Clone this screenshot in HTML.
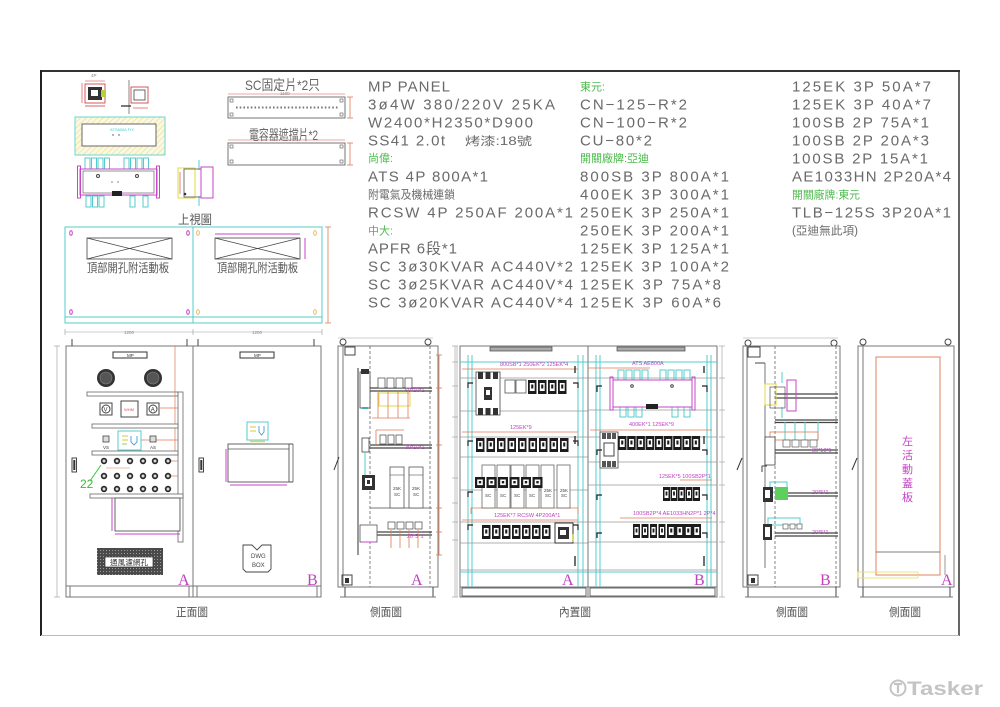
<!DOCTYPE html>
<html><head><meta charset="utf-8">
<style>
html,body{margin:0;padding:0;background:#fff;width:1000px;height:707px;overflow:hidden}
svg{display:block}
text{font-family:"Liberation Sans","Noto Sans CJK TC",sans-serif}
.t{font-size:15px;fill:#6a6a6a}
.g{font-size:11px;fill:#4cbb4c}
.s{font-size:11.5px;fill:#6a6a6a}
.m{fill:#c040c0}
.ln{stroke:#777;stroke-width:1;fill:none}
.dk{stroke:#444;stroke-width:1;fill:none}
.cy{stroke:#55cccc;stroke-width:1;fill:none}
.mg{stroke:#c844c8;stroke-width:1;fill:none}
.or{stroke:#e07a50;stroke-width:.8;fill:none}
.ye{stroke:#e0d840;stroke-width:1;fill:none}
.dm{stroke:#999;stroke-width:.6;fill:none}
.tiny{font-size:4.5px;fill:#888}
.mt{font-size:5.5px;fill:#c040c0}
.lab{font-size:11.5px;fill:#555}
.big{font-family:"Liberation Serif",serif;font-size:16px;fill:#c040c0}
</style></head><body>
<svg width="1000" height="707" viewBox="0 0 1000 707" xmlns="http://www.w3.org/2000/svg">
<defs>
<pattern id="hy" width="4" height="4" patternUnits="userSpaceOnUse" patternTransform="rotate(45)"><rect width="4" height="4" fill="#fbf8e2"/><line x1="0" y1="0" x2="0" y2="4" stroke="#e6d878" stroke-width="1"/></pattern>
<pattern id="gr" width="3" height="3" patternUnits="userSpaceOnUse"><rect width="3" height="3" fill="#4a4a4a"/><rect x="1" y="1" width="1" height="1" fill="#9a9a9a"/></pattern>
<g id="bk"><rect width="8.5" height="14" fill="#1c1c1c"/><rect x="1.8" y="3" width="4.9" height="8" fill="#fff"/><rect x="3.2" y="4.5" width="2.1" height="4" fill="#1c1c1c"/></g>
<g id="bs"><rect width="7" height="14" fill="#1c1c1c"/><rect x="1.5" y="3" width="4" height="8" fill="#fff"/><rect x="2.6" y="4.5" width="1.8" height="4" fill="#1c1c1c"/></g>
<g id="ct"><rect width="10" height="11" fill="#1c1c1c"/><rect x="2.2" y="2.5" width="5.6" height="5.6" fill="#fff"/><rect x="3.8" y="4" width="2.4" height="2.4" fill="#1c1c1c"/></g>
<g id="lp"><circle r="3.2" fill="#2a2a2a"/><circle r="1.5" fill="#ddd"/></g>
</defs>

<!-- frame -->
<line x1="40" y1="71" x2="960" y2="71" stroke="#333" stroke-width="2"/>
<line x1="41" y1="70" x2="41" y2="636" stroke="#222" stroke-width="2"/>
<line x1="959" y1="70" x2="959" y2="636" stroke="#333" stroke-width="1.5"/>
<line x1="41" y1="635.5" x2="959" y2="635.5" stroke="#bbb" stroke-width="1"/>

<!-- text column 1 -->
<text class="t" x="368" y="91.5" textLength="82" lengthAdjust="spacing">MP  PANEL</text>
<text class="t" x="368" y="109.5" textLength="187" lengthAdjust="spacing">3ø4W  380/220V  25KA</text>
<text class="t" x="368" y="127.5" textLength="165" lengthAdjust="spacing">W2400*H2350*D900</text>
<text class="t" x="368" y="145.5" textLength="77" lengthAdjust="spacing">SS41  2.0t</text>
<text class="s" x="465" y="145" textLength="67" lengthAdjust="spacingAndGlyphs">烤漆:18號</text>
<text class="g" x="368" y="162">尚偉:</text>
<text class="t" x="368" y="181.5" textLength="120" lengthAdjust="spacing">ATS  4P  800A*1</text>
<text class="s" x="368" y="198.5" textLength="87" lengthAdjust="spacingAndGlyphs">附電氣及機械連鎖</text>
<text class="t" x="368" y="217.5" textLength="205" lengthAdjust="spacing">RCSW  4P  250AF  200A*1</text>
<text class="g" x="368" y="234.5">中大:</text>
<text class="t" x="368" y="253.5" textLength="89" lengthAdjust="spacing">APFR  6段*1</text>
<text class="t" x="368" y="271.5" textLength="205" lengthAdjust="spacing">SC  3ø30KVAR  AC440V*2</text>
<text class="t" x="368" y="289.5" textLength="205" lengthAdjust="spacing">SC  3ø25KVAR  AC440V*4</text>
<text class="t" x="368" y="307.5" textLength="205" lengthAdjust="spacing">SC  3ø20KVAR  AC440V*4</text>

<!-- text column 2 -->
<text class="g" x="580" y="90.5">東元:</text>
<text class="t" x="580" y="109.5" textLength="107" lengthAdjust="spacing">CN−125−R*2</text>
<text class="t" x="580" y="127.5" textLength="107" lengthAdjust="spacing">CN−100−R*2</text>
<text class="t" x="580" y="145.5" textLength="72" lengthAdjust="spacing">CU−80*2</text>
<text class="g" x="580" y="162" textLength="69" lengthAdjust="spacingAndGlyphs">開關廠牌:亞迪</text>
<text class="t" x="580" y="181.5" textLength="149" lengthAdjust="spacing">800SB  3P  800A*1</text>
<text class="t" x="580" y="199.5" textLength="149" lengthAdjust="spacing">400EK  3P  300A*1</text>
<text class="t" x="580" y="217.5" textLength="149" lengthAdjust="spacing">250EK  3P  250A*1</text>
<text class="t" x="580" y="235.5" textLength="149" lengthAdjust="spacing">250EK  3P  200A*1</text>
<text class="t" x="580" y="253.5" textLength="149" lengthAdjust="spacing">125EK  3P  125A*1</text>
<text class="t" x="580" y="271.5" textLength="149" lengthAdjust="spacing">125EK  3P  100A*2</text>
<text class="t" x="580" y="289.5" textLength="141" lengthAdjust="spacing">125EK  3P  75A*8</text>
<text class="t" x="580" y="307.5" textLength="141" lengthAdjust="spacing">125EK  3P  60A*6</text>

<!-- text column 3 -->
<text class="t" x="792" y="91.5" textLength="139" lengthAdjust="spacing">125EK  3P  50A*7</text>
<text class="t" x="792" y="109.5" textLength="139" lengthAdjust="spacing">125EK  3P  40A*7</text>
<text class="t" x="792" y="127.5" textLength="137" lengthAdjust="spacing">100SB  2P  75A*1</text>
<text class="t" x="792" y="145.5" textLength="137" lengthAdjust="spacing">100SB  2P  20A*3</text>
<text class="t" x="792" y="163.5" textLength="136" lengthAdjust="spacing">100SB  2P  15A*1</text>
<text class="t" x="792" y="181.5" textLength="159" lengthAdjust="spacing">AE1033HN  2P20A*4</text>
<text class="g" x="792" y="198.5" textLength="68" lengthAdjust="spacingAndGlyphs">開關廠牌:東元</text>
<text class="t" x="792" y="217.5" textLength="159" lengthAdjust="spacing">TLB−125S  3P20A*1</text>
<text class="s" x="792" y="234.5" textLength="66" lengthAdjust="spacingAndGlyphs">(亞迪無此項)</text>

<!-- ===== top-left small drawings ===== -->
<text class="tiny" x="91" y="77">4P</text>
<line x1="82" y1="83" x2="82" y2="103" stroke="#c33" stroke-width=".6"/>
<line x1="85" y1="81" x2="105" y2="81" stroke="#c33" stroke-width=".6"/>
<rect x="85" y="84" width="20" height="19" fill="none" stroke="#c33" stroke-width=".8"/>
<rect x="88" y="87" width="14" height="13" fill="#333"/>
<rect x="91" y="90" width="7" height="6" fill="#fff"/>
<rect x="101" y="90" width="5" height="7" fill="#b8d040"/>
<line x1="85" y1="106" x2="105" y2="106" stroke="#c33" stroke-width=".8"/>
<line x1="129" y1="80" x2="129" y2="114" stroke="#555" stroke-width=".7"/>
<rect x="131" y="87" width="17" height="16" fill="none" stroke="#c33" stroke-width=".8"/>
<rect x="134" y="90" width="11" height="10" fill="none" stroke="#444" stroke-width=".8"/>
<line x1="121" y1="106" x2="131" y2="106" stroke="#222" stroke-width="1.2"/>
<line x1="133" y1="108" x2="148" y2="108" stroke="#c33" stroke-width=".6"/>

<rect x="75" y="117" width="90" height="38" fill="url(#hy)" stroke="#6cd4d4" stroke-width="1"/>
<rect x="82" y="124" width="74" height="22" fill="#fff" stroke="#444" stroke-width=".8"/>
<text x="110" y="131" style="font-size:4px;fill:#4cc">ATS800A FIX</text>
<circle cx="113" cy="135" r=".7" fill="#444"/><circle cx="119" cy="135" r=".7" fill="#444"/>

<!-- ATS top view -->
<g class="cy">
<rect x="85" y="158" width="5" height="11"/><rect x="91.5" y="158" width="5" height="11"/><rect x="98" y="158" width="5" height="11"/><rect x="104.5" y="158" width="5" height="11"/>
<rect x="124" y="158" width="5" height="11"/><rect x="130.5" y="158" width="5" height="11"/><rect x="137" y="158" width="5" height="11"/><rect x="143.5" y="158" width="5" height="11"/>
<rect x="86" y="196" width="5" height="11"/><rect x="92.5" y="196" width="5" height="11"/><rect x="99" y="196" width="5" height="11"/>
<rect x="130" y="196" width="5" height="11"/><rect x="143" y="196" width="5" height="11"/>
</g>
<rect x="80" y="169" width="77" height="26" class="mg"/>
<rect x="77.5" y="166" width="3" height="32" class="mg"/>
<rect x="156.5" y="166" width="3" height="32" class="mg"/>
<rect x="83" y="171" width="71" height="22" fill="none" stroke="#666" stroke-width=".7"/>
<circle cx="98" cy="176" r="1.5" class="dk"/><circle cx="137" cy="176" r="1.5" class="dk"/>
<circle cx="112" cy="182" r=".6" fill="#333"/><circle cx="118" cy="182" r=".6" fill="#333"/>
<rect x="112" y="191" width="10" height="5" fill="#222"/>

<!-- side piece -->
<line x1="199" y1="160" x2="199" y2="170" class="cy"/>
<line x1="199" y1="196" x2="199" y2="206" class="cy"/>
<rect x="178" y="168" width="17" height="30" class="ye"/>
<rect x="184" y="169" width="17" height="28" fill="none" stroke="#555" stroke-width=".8"/>
<rect x="201" y="167" width="12" height="31" class="mg"/>
<line x1="180" y1="172" x2="180" y2="194" stroke="#c33" stroke-width=".6"/>
<circle cx="185" cy="194" r="1.3" fill="#333"/>

<!-- plates -->
<text x="245" y="90" style="font-size:14px;fill:#666" textLength="75" lengthAdjust="spacingAndGlyphs">SC固定片*2只</text>
<line x1="228" y1="94" x2="345" y2="94" stroke="#d05050" stroke-width=".6"/>
<text class="tiny" x="280" y="95">1100</text>
<rect x="228" y="97" width="117" height="21" fill="none" stroke="#666" stroke-width=".9"/>
<g fill="none" stroke="#555" stroke-width=".6">
<rect x="230" y="99" width="3" height="3"/><rect x="340" y="99" width="3" height="3"/><rect x="230" y="113" width="3" height="3"/><rect x="340" y="113" width="3" height="3"/>
<rect x="230" y="145" width="3" height="3"/><rect x="340" y="145" width="3" height="3"/><rect x="230" y="160" width="3" height="3"/><rect x="340" y="160" width="3" height="3"/>
</g>
<line x1="236" y1="107.5" x2="338" y2="107.5" stroke="#777" stroke-width="2" stroke-dasharray="1.6 2.1"/>
<line x1="350" y1="97" x2="350" y2="118" class="or"/>
<line x1="347" y1="97" x2="353" y2="97" class="or"/><line x1="347" y1="118" x2="353" y2="118" class="or"/>
<text x="249" y="140" style="font-size:14px;fill:#666" textLength="69" lengthAdjust="spacingAndGlyphs">電容器遮擋片*2</text>
<line x1="228" y1="140" x2="345" y2="140" stroke="#d05050" stroke-width=".6"/>
<rect x="228" y="143" width="117" height="22" fill="none" stroke="#666" stroke-width=".9"/>
<line x1="350" y1="143" x2="350" y2="165" class="or"/>
<line x1="347" y1="143" x2="353" y2="143" class="or"/><line x1="347" y1="165" x2="353" y2="165" class="or"/>

<!-- top view -->
<text x="178" y="224" style="font-size:12.5px;fill:#555" textLength="34" lengthAdjust="spacingAndGlyphs">上視圖</text>
<rect x="65" y="227" width="257" height="96" class="cy"/>
<line x1="193" y1="227" x2="193" y2="323" class="cy"/>
<line x1="65" y1="317" x2="322" y2="317" class="cy"/>
<g class="mg" stroke-width=".7">
<ellipse cx="71" cy="233" rx="1.3" ry="2.3"/><ellipse cx="188" cy="233" rx="1.3" ry="2.3"/><ellipse cx="71" cy="312" rx="1.3" ry="2.3"/><ellipse cx="188" cy="312" rx="1.3" ry="2.3"/>
</g>
<g fill="none" stroke="#e0a030" stroke-width=".7">
<ellipse cx="198" cy="233" rx="1.3" ry="2.3"/><ellipse cx="315" cy="233" rx="1.3" ry="2.3"/><ellipse cx="198" cy="312" rx="1.3" ry="2.3"/><ellipse cx="315" cy="312" rx="1.3" ry="2.3"/>
</g>
<g fill="none" stroke="#444" stroke-width=".8">
<rect x="87" y="238" width="85" height="21"/><line x1="87" y1="238" x2="172" y2="259"/><line x1="87" y1="259" x2="172" y2="238"/>
<rect x="215" y="238" width="85" height="21"/><line x1="215" y1="238" x2="300" y2="259"/><line x1="215" y1="259" x2="300" y2="238"/>
</g>
<line x1="215" y1="234" x2="300" y2="234" class="mg" stroke-width=".6"/>
<line x1="305" y1="238" x2="305" y2="259" class="mg" stroke-width=".6"/>
<text x="87" y="272" style="font-size:12px;fill:#555" textLength="82" lengthAdjust="spacingAndGlyphs">頂部開孔附活動板</text>
<text x="217" y="272" style="font-size:12px;fill:#555" textLength="81" lengthAdjust="spacingAndGlyphs">頂部開孔附活動板</text>
<line x1="328" y1="227" x2="328" y2="323" class="or"/>
<line x1="325" y1="227" x2="331" y2="227" class="or"/><line x1="325" y1="323" x2="331" y2="323" class="or"/>

<!-- ===== FRONT VIEW ===== -->
<line x1="65" y1="332" x2="322" y2="332" class="dm"/>
<line x1="65" y1="329" x2="65" y2="335" class="dm"/><line x1="193" y1="329" x2="193" y2="335" class="dm"/><line x1="322" y1="329" x2="322" y2="335" class="dm"/>
<text class="tiny" x="124" y="334">1200</text><text class="tiny" x="252" y="334">1200</text>
<line x1="57" y1="346" x2="57" y2="597" class="dm"/>
<line x1="54" y1="346" x2="60" y2="346" class="dm"/><line x1="54" y1="597" x2="60" y2="597" class="dm"/>
<rect x="66" y="346" width="127" height="251" class="ln"/>
<rect x="193" y="346" width="128" height="251" class="ln"/>
<line x1="66" y1="586" x2="321" y2="586" class="ln"/>
<line x1="70" y1="586" x2="70" y2="597" class="ln"/><line x1="189" y1="586" x2="189" y2="597" class="ln"/>
<line x1="197" y1="586" x2="197" y2="597" class="ln"/><line x1="317" y1="586" x2="317" y2="597" class="ln"/>
<g stroke="#444" stroke-width="1"><line x1="72" y1="339" x2="72" y2="346"/><line x1="187" y1="339" x2="187" y2="346"/><line x1="198" y1="339" x2="198" y2="346"/><line x1="314" y1="339" x2="314" y2="346"/></g>
<rect x="113" y="352" width="34" height="6" fill="#fff" stroke="#333" stroke-width="1"/>
<text class="tiny" x="127" y="357" style="fill:#333">MP</text>
<rect x="240" y="352" width="34" height="6" fill="#fff" stroke="#333" stroke-width="1"/>
<text class="tiny" x="254" y="357" style="fill:#333">MP</text>
<circle cx="106" cy="378" r="9" fill="#333"/><circle cx="106" cy="378" r="6" fill="#555" stroke="#888" stroke-width=".6"/>
<circle cx="153" cy="378" r="9" fill="#333"/><circle cx="153" cy="378" r="6" fill="#555" stroke="#888" stroke-width=".6"/>
<rect x="87" y="392" width="91" height="4" fill="#fff" stroke="#666" stroke-width=".8"/>
<rect x="178" y="392" width="5" height="150" fill="#fff" stroke="#666" stroke-width=".8"/>
<line x1="175" y1="346" x2="175" y2="455" stroke="#e07a50" stroke-width=".7"/>
<g stroke="#e07a50" stroke-width=".7"><line x1="160" y1="408" x2="178" y2="408"/><line x1="141" y1="440" x2="178" y2="440"/><line x1="170" y1="461" x2="178" y2="461"/><line x1="170" y1="476" x2="178" y2="476"/></g>
<rect x="100" y="403" width="12" height="12" fill="#fff" stroke="#444"/><circle cx="106" cy="409" r="4" class="dk"/><text x="103.5" y="411.5" style="font-size:6px;fill:#333">V</text>
<rect x="121" y="401" width="17" height="16" fill="#fff" stroke="#444"/><text x="124" y="411" style="font-size:4px;fill:#c55">WHM</text>
<rect x="147" y="403" width="12" height="12" fill="#fff" stroke="#444"/><circle cx="153" cy="409" r="4" class="dk"/><text x="150.8" y="411.5" style="font-size:6px;fill:#333">A</text>
<rect x="92" y="424" width="86" height="4" fill="#fff" stroke="#666" stroke-width=".8"/>
<rect x="103" y="436" width="6" height="6" fill="#ddd" stroke="#444" stroke-width=".8"/>
<text class="tiny" x="103" y="449" style="fill:#333">VS</text>
<rect x="150" y="436" width="6" height="6" fill="#ddd" stroke="#444" stroke-width=".8"/>
<text class="tiny" x="150" y="449" style="fill:#333">AS</text>
<rect x="118" y="431" width="23" height="19" class="cy" stroke-width="1.2"/>
<line x1="122" y1="436" x2="128" y2="436" stroke="#d8c830"/><line x1="122" y1="440" x2="128" y2="440" stroke="#d8c830"/><line x1="122" y1="444" x2="127" y2="444" stroke="#8c8"/>
<path d="M131 436 v6 l3 3 l3 -3 v-6" stroke="#4a9ad8" fill="none" stroke-width=".9"/>
<line x1="122" y1="452" x2="137" y2="452" stroke="#e8d840" stroke-width="1.5"/>
<rect x="92" y="451" width="86" height="4" fill="#fff" stroke="#666" stroke-width=".8"/>
<rect x="72" y="458" width="4.5" height="14" fill="#fff" stroke="#333" stroke-width=".9"/><rect x="73.3" y="460" width="2" height="10" fill="#333"/>
<g>
<use href="#lp" x="104" y="461"/><use href="#lp" x="117" y="461"/><use href="#lp" x="130" y="461"/><use href="#lp" x="143" y="461"/><use href="#lp" x="155" y="461"/><use href="#lp" x="168" y="461"/>
<use href="#lp" x="104" y="476"/><use href="#lp" x="117" y="476"/><use href="#lp" x="130" y="476"/><use href="#lp" x="143" y="476"/><use href="#lp" x="155" y="476"/><use href="#lp" x="168" y="476"/>
<use href="#lp" x="104" y="489"/><use href="#lp" x="117" y="489"/><use href="#lp" x="130" y="489"/><use href="#lp" x="143" y="489"/><use href="#lp" x="155" y="489"/><use href="#lp" x="168" y="489"/>
</g>
<line x1="106" y1="468" x2="130" y2="468" stroke="#e07a50" stroke-width=".6"/>
<line x1="90" y1="481" x2="101" y2="465" stroke="#3c3" stroke-width="1"/>
<text x="80" y="488" style="font-size:12px;fill:#3cb83c">22</text>
<rect x="90" y="494" width="93" height="4" fill="#fff" stroke="#666" stroke-width=".8"/>
<rect x="115" y="498" width="65" height="33" fill="#fff" stroke="#555" stroke-width=".9"/>
<line x1="112" y1="498" x2="112" y2="531" class="mg" stroke-width=".6"/>
<line x1="115" y1="534" x2="180" y2="534" class="mg" stroke-width=".6"/>
<rect x="97" y="548" width="66" height="27" fill="url(#gr)"/>
<rect x="105" y="557" width="48" height="10" fill="#fff" stroke="#333" stroke-width=".7"/>
<text x="110" y="565" style="font-size:7.5px;fill:#333" textLength="38" lengthAdjust="spacingAndGlyphs">通風濾網孔</text>
<text class="big" x="178" y="585">A</text>
<rect x="199" y="458" width="4.5" height="14" fill="#fff" stroke="#333" stroke-width=".9"/><rect x="200.3" y="460" width="2" height="10" fill="#333"/>
<rect x="247" y="422" width="21" height="18" class="cy" stroke-width="1.2"/>
<line x1="250" y1="427" x2="256" y2="427" stroke="#d8c830"/><line x1="250" y1="431" x2="256" y2="431" stroke="#d8c830"/>
<path d="M259 426 v6 l2.5 3 l2.5 -3 v-6" stroke="#4a9ad8" fill="none" stroke-width=".9"/>
<line x1="250" y1="441.5" x2="265" y2="441.5" stroke="#e8d840" stroke-width="1.5"/>
<rect x="228" y="444" width="61" height="38" fill="#fff" stroke="#555" stroke-width=".9"/>
<line x1="228" y1="449" x2="289" y2="449" stroke="#555" stroke-width=".8"/>
<line x1="289" y1="444" x2="293" y2="444" stroke="#555"/><line x1="293" y1="444" x2="293" y2="482" stroke="#555" stroke-width=".8"/><line x1="289" y1="482" x2="293" y2="482" stroke="#555"/>
<line x1="226" y1="449" x2="226" y2="482" class="mg" stroke-width=".6"/>
<line x1="230" y1="485" x2="287" y2="485" class="mg" stroke-width=".6"/>
<path d="M243 545 L252 545 L257 550 L262 545 L271 545 L271 569 L268 572 L246 572 L243 569 Z" fill="#fff" stroke="#444" stroke-width=".9"/>
<text x="251" y="558" style="font-size:6px;fill:#444">DWG</text>
<text x="252" y="567" style="font-size:6px;fill:#444">BOX</text>
<text class="big" x="307" y="585">B</text>
<text class="lab" x="176" y="616" textLength="32" lengthAdjust="spacingAndGlyphs">正面圖</text>

<!-- ===== SIDE VIEW 1 ===== -->
<line x1="338" y1="338" x2="433" y2="338" class="dm"/>
<circle cx="343" cy="342" r="3" class="dk"/><circle cx="428" cy="342" r="3" class="dk"/>
<rect x="338" y="346" width="100" height="241" class="ln"/>
<line x1="343" y1="346" x2="343" y2="587" class="ln"/>
<line x1="345" y1="587" x2="345" y2="597" class="dk"/><line x1="433" y1="587" x2="433" y2="597" class="dk"/>
<line x1="340" y1="597" x2="436" y2="597" class="ln"/>
<line x1="370" y1="346" x2="370" y2="587" stroke="#666" stroke-dasharray="3 2" stroke-width=".8"/>
<line x1="430" y1="346" x2="430" y2="587" stroke="#666" stroke-dasharray="3 2" stroke-width=".8"/>
<g stroke="#444" stroke-width="1.3">
<line x1="370" y1="388" x2="432" y2="388"/><line x1="370" y1="391" x2="432" y2="391"/>
<line x1="370" y1="445" x2="432" y2="445"/><line x1="370" y1="448" x2="432" y2="448"/>
<line x1="370" y1="532" x2="432" y2="532"/><line x1="370" y1="535" x2="432" y2="535"/>
</g>
<line x1="370" y1="508" x2="432" y2="508" stroke="#777" stroke-width="1"/>
<rect x="345" y="347" width="10" height="8" class="dk" stroke-width=".7"/>
<line x1="358" y1="368" x2="358" y2="555" stroke="#333" stroke-width="1"/>
<rect x="360" y="372" width="10" height="36" fill="#fff" stroke="#444" stroke-width=".8"/>
<rect x="361" y="369" width="8" height="5" fill="#333"/>
<line x1="362" y1="408" x2="368" y2="408" stroke="#4aa" stroke-width="2"/>
<g fill="#fff" stroke="#444" stroke-width=".7"><rect x="378" y="378" width="7" height="10"/><rect x="387" y="378" width="7" height="10"/><rect x="396" y="378" width="7" height="10"/><rect x="405" y="378" width="7" height="10"/></g>
<rect x="379" y="393" width="31" height="13" class="ye" stroke-width=".8"/>
<g class="or"><line x1="378" y1="392" x2="378" y2="418"/><line x1="388" y1="392" x2="388" y2="418"/><line x1="398" y1="392" x2="398" y2="418"/><line x1="408" y1="392" x2="408" y2="418"/><line x1="372" y1="418" x2="410" y2="418"/></g>
<text class="mt" x="405" y="392">60*10*1</text>
<rect x="362" y="438" width="7" height="14" fill="#fff" stroke="#444" stroke-width=".8"/>
<g fill="#fff" stroke="#444" stroke-width=".7"><rect x="380" y="435" width="6" height="9"/><rect x="388" y="435" width="6" height="9"/><rect x="396" y="435" width="6" height="9"/></g>
<g class="or"><line x1="376" y1="430" x2="404" y2="430"/><line x1="376" y1="430" x2="376" y2="445"/></g>
<text class="mt" x="405" y="449">30*10*1</text>
<line x1="365" y1="452" x2="365" y2="476" class="cy"/>
<rect x="362" y="475" width="13" height="15" fill="#333"/><rect x="365" y="478" width="7" height="8" fill="#fff"/><rect x="367" y="480" width="3" height="4" fill="#333"/>
<rect x="390" y="467" width="14" height="41" fill="#fff" stroke="#555" stroke-width=".8"/><line x1="390" y1="475" x2="404" y2="475" stroke="#555" stroke-width=".6"/>
<rect x="409" y="467" width="14" height="41" fill="#fff" stroke="#555" stroke-width=".8"/><line x1="409" y1="475" x2="423" y2="475" stroke="#555" stroke-width=".6"/>
<text class="tiny" x="393" y="490" style="fill:#444">25K</text><text class="tiny" x="394" y="496" style="fill:#444">SC</text>
<text class="tiny" x="412" y="490" style="fill:#444">25K</text><text class="tiny" x="413" y="496" style="fill:#444">SC</text>
<rect x="360" y="525" width="17" height="17" fill="#fff" stroke="#555" stroke-width=".8"/>
<line x1="362" y1="542" x2="375" y2="542" class="mg"/>
<g fill="#fff" stroke="#444" stroke-width=".7"><rect x="388" y="522" width="7" height="7"/><rect x="397" y="522" width="7" height="7"/><rect x="406" y="522" width="7" height="7"/><rect x="415" y="522" width="7" height="7"/></g>
<g class="or"><line x1="391" y1="530" x2="391" y2="548"/><line x1="400" y1="530" x2="400" y2="548"/><line x1="409" y1="530" x2="409" y2="548"/><line x1="418" y1="530" x2="418" y2="548"/></g>
<text class="mt" x="407" y="538">20*5*1</text>
<line x1="334" y1="470" x2="339" y2="457" stroke="#333" stroke-width="1"/>
<rect x="342" y="575" width="10" height="10" class="dk" stroke-width=".8"/><rect x="345" y="578" width="4" height="5" fill="#333"/>
<line x1="439" y1="355" x2="439" y2="555" class="or"/>
<g class="or"><line x1="436" y1="355" x2="442" y2="355"/><line x1="436" y1="388" x2="442" y2="388"/><line x1="436" y1="445" x2="442" y2="445"/><line x1="436" y1="508" x2="442" y2="508"/><line x1="436" y1="532" x2="442" y2="532"/><line x1="436" y1="555" x2="442" y2="555"/></g>
<line x1="455" y1="346" x2="455" y2="597" class="dm"/>
<g class="dm"><line x1="452" y1="346" x2="458" y2="346"/><line x1="452" y1="362" x2="458" y2="362"/><line x1="452" y1="386" x2="458" y2="386"/><line x1="452" y1="417" x2="458" y2="417"/><line x1="452" y1="437" x2="458" y2="437"/><line x1="452" y1="478" x2="458" y2="478"/><line x1="452" y1="503" x2="458" y2="503"/><line x1="452" y1="522" x2="458" y2="522"/><line x1="452" y1="540" x2="458" y2="540"/><line x1="452" y1="597" x2="458" y2="597"/></g>
<text class="big" x="411" y="585">A</text>
<text class="lab" x="370" y="616" textLength="32" lengthAdjust="spacingAndGlyphs">側面圖</text>

<!-- ===== INNER VIEW A ===== -->
<line x1="457" y1="346" x2="457" y2="597" class="dm"/>
<rect x="460" y="346" width="128" height="251" class="ln"/>
<line x1="460" y1="587" x2="588" y2="587" class="ln"/>
<rect x="462" y="588" width="124" height="8" fill="none" stroke="#444" stroke-width=".8"/>
<g class="cy"><line x1="468" y1="355" x2="468" y2="587"/><line x1="472" y1="355" x2="472" y2="587"/><line x1="578" y1="355" x2="578" y2="587"/><line x1="583" y1="355" x2="583" y2="587"/>
<line x1="460" y1="362" x2="588" y2="362"/><line x1="460" y1="572" x2="588" y2="572"/></g>
<rect x="490" y="347" width="62" height="4" fill="#aaa" stroke="#444" stroke-width=".7"/>
<g stroke="#999" stroke-width=".8"><line x1="460" y1="378" x2="588" y2="378"/><line x1="460" y1="411" x2="588" y2="411"/><line x1="460" y1="437" x2="588" y2="437"/><line x1="460" y1="457" x2="588" y2="457"/><line x1="460" y1="490" x2="588" y2="490"/><line x1="460" y1="522" x2="588" y2="522"/><line x1="460" y1="543" x2="588" y2="543"/><line x1="460" y1="570" x2="588" y2="570"/></g>
<line x1="462" y1="369" x2="578" y2="369" class="or"/>
<line x1="462" y1="432" x2="578" y2="432" class="or"/>
<line x1="462" y1="520" x2="578" y2="520" class="or"/>
<path d="M471 514 V508 H578 V514" class="or" stroke-width="1"/>
<text class="mt" x="500" y="366">800SB*1  250EK*2  125EK*4</text>
<text class="mt" x="510" y="429">125EK*9</text>
<text class="mt" x="494" y="517">125EK*7  RCSW 4P200A*1</text>
<rect x="476" y="372" width="24" height="43" fill="#fff" stroke="#444" stroke-width=".8"/>
<g fill="#333"><rect x="478" y="372" width="5" height="7"/><rect x="485.5" y="372" width="5" height="7"/><rect x="493" y="372" width="5" height="7"/>
<rect x="478" y="408" width="5" height="7"/><rect x="485.5" y="408" width="5" height="7"/><rect x="493" y="408" width="5" height="7"/>
<rect x="484" y="387" width="8" height="13"/></g>
<rect x="486" y="390" width="4" height="5" fill="#fff"/>
<g fill="#fff" stroke="#555" stroke-width=".8"><rect x="505" y="380" width="10" height="13"/><rect x="516" y="380" width="10" height="13"/></g>
<use href="#bk" x="528" y="380"/><use href="#bk" x="538" y="380"/><use href="#bk" x="548" y="380"/><use href="#bk" x="558" y="380"/>
<use href="#bk" x="476" y="438"/><use href="#bk" x="486.5" y="438"/><use href="#bk" x="497" y="438"/><use href="#bk" x="507.5" y="438"/><use href="#bk" x="518" y="438"/><use href="#bk" x="528.5" y="438"/><use href="#bk" x="539" y="438"/><use href="#bk" x="549.5" y="438"/><use href="#bk" x="560" y="438"/>
<g fill="#fff" stroke="#666" stroke-width=".8"><rect x="482" y="465" width="13" height="43"/><rect x="497" y="465" width="13" height="43"/><rect x="511" y="465" width="13" height="43"/><rect x="526" y="465" width="13" height="43"/><rect x="541" y="465" width="13" height="43"/><rect x="557" y="465" width="13" height="43"/></g>
<use href="#ct" x="475" y="477"/><use href="#ct" x="486.5" y="477"/><use href="#ct" x="498" y="477"/><use href="#ct" x="509.5" y="477"/><use href="#ct" x="521" y="477"/><use href="#ct" x="532.5" y="477"/>
<g class="tiny" style="fill:#444"><text x="485" y="497">SC</text><text x="500" y="497">SC</text><text x="514" y="497">SC</text><text x="529" y="497">SC</text><text x="544" y="492">25K</text><text x="545" y="497">SC</text><text x="560" y="492">25K</text><text x="561" y="497">SC</text></g>
<use href="#bk" x="482" y="525"/><use href="#bk" x="492" y="525"/><use href="#bk" x="502" y="525"/><use href="#bk" x="512" y="525"/><use href="#bk" x="522" y="525"/><use href="#bk" x="532" y="525"/><use href="#bk" x="542" y="525"/>
<rect x="555" y="523" width="18" height="20" fill="#fff" stroke="#333" stroke-width="1"/>
<rect x="558" y="527" width="11" height="12" fill="#333"/><rect x="560" y="530" width="6" height="5" fill="#fff"/>
<line x1="573" y1="534" x2="573" y2="542" stroke="#cc4" stroke-width="1.5"/>
<g stroke="#222" stroke-width="1.2" fill="none"><path d="M468 388 V383 H473"/><path d="M578 388 V383 H573"/><path d="M468 446 V441 H473"/><path d="M578 446 V441 H573"/><path d="M468 530 V525 H473"/><path d="M578 530 V525 H573"/><path d="M468 497 V492 H473"/></g>
<g stroke="#333" stroke-width="1.4"><line x1="575" y1="366" x2="575" y2="373"/><line x1="575" y1="436" x2="575" y2="444"/><line x1="575" y1="556" x2="575" y2="566"/></g>
<text class="big" x="562" y="585">A</text>
<text class="lab" x="559" y="616" textLength="32" lengthAdjust="spacingAndGlyphs">內置圖</text>

<!-- ===== INNER VIEW B ===== -->
<rect x="588" y="346" width="129" height="251" class="ln"/>
<line x1="588" y1="587" x2="717" y2="587" class="ln"/>
<rect x="590" y="588" width="125" height="8" fill="none" stroke="#444" stroke-width=".8"/>
<g class="cy"><line x1="596" y1="355" x2="596" y2="587"/><line x1="600" y1="355" x2="600" y2="587"/><line x1="707" y1="355" x2="707" y2="587"/><line x1="711" y1="355" x2="711" y2="587"/>
<line x1="588" y1="362" x2="717" y2="362"/><line x1="588" y1="572" x2="717" y2="572"/></g>
<rect x="617" y="347" width="68" height="4" fill="#aaa" stroke="#444" stroke-width=".7"/>
<g stroke="#999" stroke-width=".8"><line x1="588" y1="378" x2="717" y2="378"/><line x1="588" y1="410" x2="717" y2="410"/><line x1="588" y1="437" x2="717" y2="437"/><line x1="588" y1="462" x2="717" y2="462"/><line x1="588" y1="485" x2="717" y2="485"/><line x1="588" y1="522" x2="717" y2="522"/><line x1="588" y1="542" x2="717" y2="542"/><line x1="588" y1="570" x2="717" y2="570"/></g>
<line x1="588" y1="368" x2="650" y2="368" class="or"/>
<line x1="590" y1="430" x2="712" y2="430" class="or"/>
<line x1="680" y1="480" x2="712" y2="480" class="or"/>
<line x1="620" y1="518" x2="712" y2="518" class="or"/>
<text class="mt" x="632" y="365">ATS  AE800A</text>
<g class="cy"><rect x="618" y="370" width="6" height="10"/><rect x="626" y="370" width="6" height="10"/><rect x="634" y="370" width="6" height="10"/><rect x="642" y="370" width="6" height="10"/>
<rect x="660" y="370" width="6" height="10"/><rect x="668" y="370" width="6" height="10"/><rect x="676" y="370" width="6" height="10"/><rect x="684" y="370" width="6" height="10"/>
<rect x="620" y="407" width="6" height="10"/><rect x="628" y="407" width="6" height="10"/><rect x="636" y="407" width="6" height="10"/><rect x="672" y="407" width="6" height="10"/><rect x="684" y="407" width="6" height="10"/></g>
<rect x="613" y="380" width="79" height="27" class="mg"/>
<rect x="610" y="377" width="3" height="33" class="mg"/><rect x="692" y="377" width="3" height="33" class="mg"/>
<circle cx="632" cy="386" r="1.3" class="dk"/><circle cx="672" cy="386" r="1.3" class="dk"/>
<rect x="646" y="404" width="12" height="5" fill="#222"/>
<text class="mt" x="629" y="426">400EK*1  125EK*9</text>
<rect x="600" y="432" width="18" height="36" fill="#fff" stroke="#444" stroke-width=".8"/>
<g fill="#555"><rect x="602" y="433" width="4" height="6"/><rect x="607" y="433" width="4" height="6"/><rect x="612" y="433" width="4" height="6"/><rect x="602" y="461" width="4" height="6"/><rect x="607" y="461" width="4" height="6"/><rect x="612" y="461" width="4" height="6"/></g>
<rect x="604" y="443" width="10" height="13" fill="none" stroke="#444"/>
<use href="#bk" x="618" y="436"/><use href="#bk" x="627.2" y="436"/><use href="#bk" x="636.4" y="436"/><use href="#bk" x="645.6" y="436"/><use href="#bk" x="654.8" y="436"/><use href="#bk" x="664" y="436"/><use href="#bk" x="673.2" y="436"/><use href="#bk" x="682.4" y="436"/><use href="#bk" x="691.6" y="436"/>
<text class="mt" x="659" y="478">125EK*5  100SB2P*1</text>
<use href="#bs" x="663" y="487"/><use href="#bs" x="670.5" y="487"/><use href="#bs" x="678" y="487"/><use href="#bs" x="685.5" y="487"/><use href="#bs" x="693" y="487"/>
<text class="mt" x="633" y="515">100SB2P*4  AE1033HN2P*1  2P*4</text>
<use href="#bs" x="633" y="524"/><use href="#bs" x="641.5" y="524"/><use href="#bs" x="650" y="524"/><use href="#bs" x="658.5" y="524"/><use href="#bk" x="667" y="524"/><use href="#bk" x="675.5" y="524"/><use href="#bk" x="684" y="524"/><use href="#bk" x="692.5" y="524"/>
<g stroke="#222" stroke-width="1.2" fill="none"><path d="M597 392 V386 H602"/><path d="M707 392 V386 H702"/><path d="M597 455 V450 H602"/><path d="M707 455 V450 H702"/><path d="M597 500 V495 H602"/><path d="M707 500 V495 H702"/><path d="M597 538 V533 H602"/><path d="M707 538 V533 H702"/></g>
<g stroke="#333" stroke-width="1.4"><line x1="704" y1="366" x2="704" y2="373"/><line x1="704" y1="436" x2="704" y2="444"/><line x1="704" y1="556" x2="704" y2="566"/></g>
<text class="big" x="694" y="585">B</text>
<line x1="722" y1="346" x2="722" y2="597" class="dm"/>
<g class="dm"><line x1="719" y1="346" x2="725" y2="346"/><line x1="719" y1="378" x2="725" y2="378"/><line x1="719" y1="410" x2="725" y2="410"/><line x1="719" y1="437" x2="725" y2="437"/><line x1="719" y1="462" x2="725" y2="462"/><line x1="719" y1="485" x2="725" y2="485"/><line x1="719" y1="522" x2="725" y2="522"/><line x1="719" y1="542" x2="725" y2="542"/><line x1="719" y1="597" x2="725" y2="597"/></g>

<!-- ===== SIDE VIEW B ===== -->
<line x1="743" y1="338" x2="838" y2="338" class="dm"/>
<circle cx="748" cy="343" r="3" class="dk"/><circle cx="834" cy="343" r="3" class="dk"/>
<rect x="743" y="346" width="97" height="241" class="ln"/>
<line x1="747" y1="346" x2="747" y2="587" class="ln"/>
<line x1="748" y1="587" x2="748" y2="597" class="dk"/><line x1="836" y1="587" x2="836" y2="597" class="dk"/>
<line x1="745" y1="597" x2="839" y2="597" class="ln"/>
<line x1="775" y1="346" x2="775" y2="587" stroke="#666" stroke-dasharray="3 2" stroke-width=".8"/>
<line x1="836" y1="346" x2="836" y2="587" stroke="#666" stroke-dasharray="3 2" stroke-width=".8"/>
<rect x="748" y="347" width="12" height="10" class="dk" stroke-width=".7"/>
<line x1="755" y1="363" x2="765" y2="363" class="dk" stroke-width=".6"/>
<line x1="765" y1="363" x2="765" y2="568" stroke="#777" stroke-width="1"/>
<g stroke="#444" stroke-width="1.3">
<line x1="775" y1="394" x2="838" y2="394"/><line x1="775" y1="398" x2="838" y2="398"/>
<line x1="775" y1="420" x2="838" y2="420"/><line x1="775" y1="422.5" x2="838" y2="422.5"/>
<line x1="775" y1="450" x2="838" y2="450"/><line x1="775" y1="453" x2="838" y2="453"/>
<line x1="775" y1="493" x2="838" y2="493"/><line x1="775" y1="496" x2="838" y2="496"/>
<line x1="775" y1="533" x2="838" y2="533"/><line x1="775" y1="536" x2="838" y2="536"/>
</g>
<line x1="782" y1="372" x2="782" y2="383" class="cy"/><line x1="782" y1="407" x2="782" y2="418" class="cy"/>
<rect x="765" y="384" width="11" height="21" class="ye"/>
<rect x="770" y="387" width="15" height="21" fill="none" stroke="#555" stroke-width=".7"/>
<rect x="787" y="380" width="9" height="31" class="mg"/>
<path d="M785 422 V440 M795 422 V440 M805 422 V440 M818 422 V440" class="cy"/>
<rect x="770" y="432" width="48" height="8" class="or"/>
<g fill="#fff" stroke="#444" stroke-width=".6"><rect x="783" y="440" width="7" height="7"/><rect x="792" y="440" width="7" height="7"/><rect x="801" y="440" width="7" height="7"/><rect x="810" y="440" width="7" height="7"/></g>
<text class="mt" x="812" y="452">30*10*1</text>
<rect x="765" y="437" width="10" height="28" fill="#fff" stroke="#444" stroke-width=".8"/>
<path d="M762 472 V466 H767" class="dk"/>
<rect x="770" y="482" width="17" height="10" class="cy"/>
<rect x="763" y="487" width="10" height="15" fill="#333"/><rect x="765" y="490" width="5" height="8" fill="#fff"/>
<rect x="775" y="487" width="13" height="13" fill="#5ccf5c"/>
<text class="mt" x="812" y="494">20*5*1</text>
<rect x="768" y="518" width="32" height="7" class="cy"/>
<g fill="#fff" stroke="#444" stroke-width=".6"><rect x="783" y="524" width="5" height="5"/><rect x="790" y="524" width="5" height="5"/><rect x="797" y="524" width="5" height="5"/></g>
<rect x="763" y="524" width="9" height="16" fill="#333"/><rect x="765" y="527" width="5" height="10" fill="#fff"/>
<text class="mt" x="812" y="534">20*5*1</text>
<line x1="737" y1="470" x2="742" y2="458" stroke="#333" stroke-width="1"/>
<rect x="748" y="575" width="10" height="10" class="dk" stroke-width=".8"/><rect x="751" y="578" width="4" height="5" fill="#333"/>
<text class="big" x="820" y="585">B</text>
<text class="lab" x="776" y="616" textLength="32" lengthAdjust="spacingAndGlyphs">側面圖</text>

<!-- ===== SIDE VIEW RIGHT ===== -->
<circle cx="863" cy="342" r="3" class="dk"/><circle cx="948" cy="342" r="3" class="dk"/>
<rect x="858" y="346" width="96" height="241" class="ln"/>
<line x1="863" y1="346" x2="863" y2="587" class="ln"/>
<line x1="863" y1="587" x2="863" y2="597" class="dk"/><line x1="950" y1="587" x2="950" y2="597" class="dk"/>
<line x1="860" y1="597" x2="953" y2="597" class="ln"/>
<rect x="876" y="357" width="64" height="218" fill="none" stroke="#e08060" stroke-width="1"/>
<line x1="876" y1="552" x2="940" y2="552" stroke="#555" stroke-width=".7"/>
<line x1="945" y1="555" x2="945" y2="575" stroke="#555" stroke-width=".6"/>
<rect x="858" y="572" width="60" height="6" fill="none" stroke="#e8e060" stroke-width=".8"/>
<g style="font-size:11px;fill:#c844c8">
<text x="902" y="445">左</text><text x="902" y="459">活</text><text x="902" y="473">動</text><text x="902" y="487">蓋</text><text x="902" y="501">板</text>
</g>
<line x1="852" y1="470" x2="857" y2="458" stroke="#333" stroke-width="1"/>
<text class="big" x="941" y="585">A</text>
<text class="lab" x="889" y="616" textLength="32" lengthAdjust="spacingAndGlyphs">側面圖</text>

<!-- watermark -->
<circle cx="898" cy="688" r="7.5" fill="none" stroke="#c4c4c4" stroke-width="2"/>
<path d="M894 684 H902 M898 684 V693" stroke="#c4c4c4" stroke-width="2.2"/>
<text x="907" y="695" style="font-size:19px;font-weight:bold;fill:#c4c4c4" textLength="76" lengthAdjust="spacingAndGlyphs">Tasker</text>
</svg>
</body></html>
